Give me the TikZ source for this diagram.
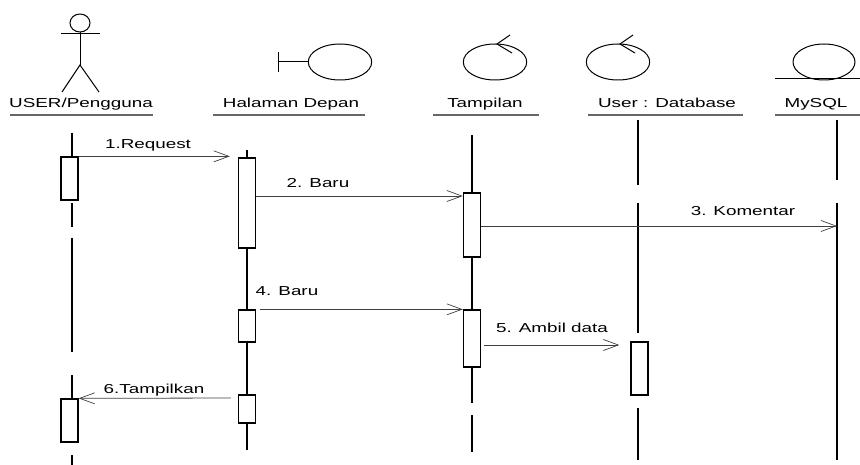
\documentclass[tikz,border=0pt]{standalone}
\usepackage{fontspec}
\setmainfont[FakeStretch=1.45]{Liberation Sans}
\usetikzlibrary{arrows.meta}

\tikzset{
  hdr/.style={anchor=base, inner sep=0pt, font=\fontsize{13}{15}\selectfont},
  lbl/.style={anchor=base, inner sep=0pt, font=\fontsize{13}{15}\selectfont},
  act/.style={draw, fill=white, line width=1.3pt, minimum width=17pt, inner sep=0pt},
  life/.style={line width=1.4pt},
  msg/.style={draw=black!75, line width=0.8pt, -{Straight Barb[length=15pt, width=11pt, line width=0.7pt]}},
  uline/.style={draw=black!60, line width=1.2pt},
  icon/.style={line width=1pt}
}

\begin{document}
\begin{tikzpicture}[x=1pt, y=-1pt]
\useasboundingbox (0,0) rectangle (860,465);

% heads
\draw [icon] (80,23) ellipse (10 and 9);
\draw [icon] (61,34) -- (100,34);
\draw [icon] (80,32) -- (80,65);
\draw [icon] (62,92) -- (80,65) -- (99,92);

\draw [icon] (278,52) -- (278,72);
\draw [icon] (278,62) -- (308,62);
\draw [icon] (340,62) ellipse (31.7 and 18);

\draw [icon] (495,62) ellipse (31.7 and 18);
\draw [icon] (510,35) -- (497,44) -- (512,53);

\draw [icon] (618,62) ellipse (31.7 and 18);
\draw [icon] (633,35) -- (620,44) -- (635,53);

\draw [icon] (824,62) ellipse (31 and 18);
\draw [icon] (775,79) -- (860,79);

\node [hdr] (user) at (81,108) {USER/Pengguna};
\node [hdr] (halaman) at (291,108) {Halaman Depan};
\node [hdr] (tampilan) at (485,108) {Tampilan};
\node [hdr] (database) at (667,108) {User : Database};
\node [hdr] (mysql) at (816,108) {MySQL};

\draw [uline] (10,115) -- (153,115);
\draw [uline] (213,115) -- (365,115);
\draw [uline] (433,115) -- (539,115);
\draw [uline] (588,115) -- (743,115);
\draw [uline] (775,115) -- (860,115);

% lifelines
\draw [life] (72,133) -- (72,157);
\draw [life] (72,203) -- (72,227);
\draw [life] (72,238) -- (72,352);
\draw [life] (72,375) -- (72,399);
\draw [life] (72,455) -- (72,465);

\draw [life] (247,150) -- (247,450);

\draw [life] (472,135) -- (472,403);
\draw [life] (472,415) -- (472,452);

\draw [life] (638,120) -- (638,185);
\draw [life] (638,203) -- (638,333);
\draw [life] (638,342) -- (638,395);
\draw [life] (638,408) -- (638,460);

\draw [life] (837,120) -- (837,180);
\draw [life] (837,203) -- (837,460);
\coordinate (m1) at (837,226);

% activations
\node [act, minimum height=43pt] (u1) at (69.5,178.5) {};
\node [act, minimum height=43pt] (u2) at (69.5,420.5) {};
\node [act, minimum height=90pt] (h1) at (247,203) {};
\node [act, minimum height=32pt] (h2) at (247,326) {};
\node [act, minimum height=28pt] (h3) at (247,409) {};
\node [act, minimum height=64pt] (t1) at (472,225) {};
\node [act, minimum height=57pt] (t2) at (472,338.5) {};
\node [act, minimum height=53pt] (d1) at (639.5,368.5) {};

% messages
\draw [msg, shorten >=8pt] (u1.north east) -- (u1.north east -| h1.west);
\node [lbl] (r1) at (148,149) {1.Request};

\draw [msg] (h1.east |- 0,196) -- (t1.west |- 0,196);
\node [lbl] (r2) at (318,188) {2. Baru};

\draw [msg] (t1.east |- m1) -- (m1);
\node [lbl] (r3) at (743,216) {3. Komentar};

\draw [msg, shorten <=4pt] (h2.north east) -- (h2.north east -| t2.west);
\node [lbl] (r4) at (287,295) {4. Baru};

\draw [msg, shorten <=3pt, shorten >=11pt] (t2.east |- 0,345) -- (d1.west |- 0,345);
\node [lbl] (r5) at (552,332) {5. Ambil data};

\draw [msg, shorten <=7pt] (h3.west |- 0,398) -- (u2.north east);
\node [lbl] (r6) at (154,393) {6.Tampilkan};

\end{tikzpicture}
\end{document}
